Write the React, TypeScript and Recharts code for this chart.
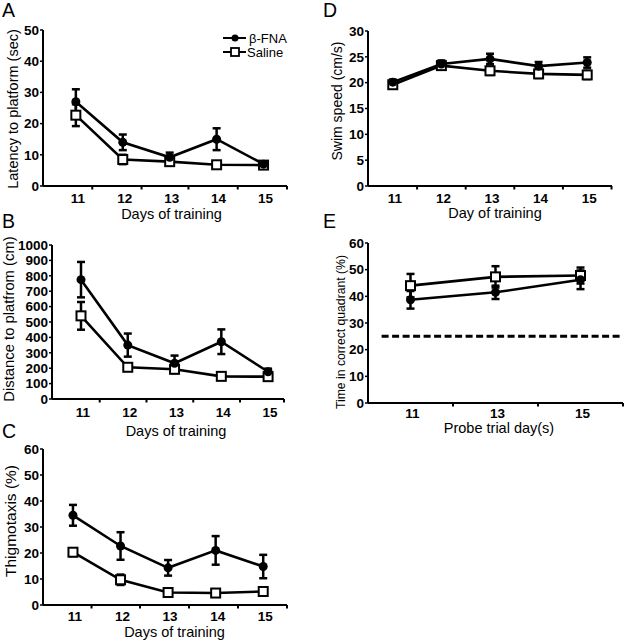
import React from "react";
import { LineChart, Line, XAxis, YAxis, ErrorBar, ReferenceLine, Legend } from "recharts";

const FONT = '"Liberation Sans", Arial, Helvetica, sans-serif';

const trainingDays = [11, 12, 13, 14, 15];
const probeDays = [11, 13, 15];

// A: latency to platform (sec)
const latencyFna = [27, 14, 9.2, 15, 7];
const latencyFnaSem = [4, 2.5, 1.5, 3.5, 0.8];
const latencySaline = [22.7, 8.5, 7.8, 6.8, 6.7];
const latencySalineSem = [3.5, 1.5, 1, 0.5, 0.5];

// B: distance to platform (cm)
const distanceFna = [775, 350, 232, 372, 177];
const distanceFnaSem = [115, 75, 50, 80, 20];
const distanceSaline = [540, 206, 193, 147, 145];
const distanceSalineSem = [90, 20, 25, 15, 15];

// C: thigmotaxis (%)
const thigmoFna = [34.5, 22.7, 14.3, 21, 14.8];
const thigmoFnaSem = [4, 5.3, 3, 5.5, 4.5];
const thigmoSaline = [20.3, 9.7, 4.8, 4.6, 5.2];
const thigmoSalineSem = [1.5, 2, 0.8, 0.5, 0.8];

// D: swim speed (cm/s)
const swimFna = [20.1, 23.6, 24.6, 23.2, 23.9];
const swimFnaSem = [0.5, 0.7, 1, 0.8, 1];
const swimSaline = [19.6, 23.3, 22.3, 21.7, 21.5];
const swimSalineSem = [0.5, 0.8, 0.8, 0.8, 0.8];

// E: time in correct quadrant (%)
const quadrantFna = [38.7, 41.5, 46.2];
const quadrantFnaSem = [3.3, 2.5, 3.5];
const quadrantSaline = [44, 47.3, 47.8];
const quadrantSalineSem = [4.4, 4, 3];
const chanceLevel = 25;

const seriesNames = ["β-FNA", "Saline"];

type Row = { day: number; fna: number; fnaErr: number; sal: number; salErr: number };

function rows(days: number[], fna: number[], fnaErr: number[], sal: number[], salErr: number[]): Row[] {
  return days.map((day, i) => ({ day, fna: fna[i], fnaErr: fnaErr[i], sal: sal[i], salErr: salErr[i] }));
}

const latencyData = rows(trainingDays, latencyFna, latencyFnaSem, latencySaline, latencySalineSem);
const distanceData = rows(trainingDays, distanceFna, distanceFnaSem, distanceSaline, distanceSalineSem);
const thigmoData = rows(trainingDays, thigmoFna, thigmoFnaSem, thigmoSaline, thigmoSalineSem);
const swimData = rows(trainingDays, swimFna, swimFnaSem, swimSaline, swimSalineSem);
const quadrantData = rows(probeDays, quadrantFna, quadrantFnaSem, quadrantSaline, quadrantSalineSem);

// eslint-disable-next-line @typescript-eslint/no-explicit-any
const FilledDot = (props: any) => {
  const { cx, cy, index } = props;
  if (cx == null || cy == null) return <g key={index} />;
  return <circle key={index} cx={cx} cy={cy} r={4.5} fill="#000" />;
};

// eslint-disable-next-line @typescript-eslint/no-explicit-any
const OpenSquare = (props: any) => {
  const { cx, cy, index } = props;
  if (cx == null || cy == null) return <g key={index} />;
  return (
    <rect key={index} x={cx - 4.5} y={cy - 4.5} width={9} height={9} fill="#fff" stroke="#000" strokeWidth={2} />
  );
};

const LegendBox = () => (
  <svg width={80} height={30}>
    <line x1={3} x2={26} y1={7} y2={7} stroke="#000" strokeWidth={2} />
    <circle cx={15} cy={7} r={3.5} fill="#000" />
    <text x={29} y={7} dominantBaseline="central" fontFamily={FONT} fontSize={13} fill="#000">
      {seriesNames[0]}
    </text>
    <line x1={3} x2={26} y1={21} y2={21} stroke="#000" strokeWidth={2} />
    <rect x={11} y={17} width={8} height={8} fill="#fff" stroke="#000" strokeWidth={1.8} />
    <text x={27} y={21} dominantBaseline="central" fontFamily={FONT} fontSize={13} fill="#000">
      {seriesNames[1]}
    </text>
  </svg>
);

type PanelProps = {
  data: Row[];
  plotLeft: number;
  plotTop: number;
  plotW: number;
  plotH: number;
  yWidth: number;
  xDomain: [number, number];
  xLabels: number[];
  xMinor: number[];
  labelDy: number;
  yMax: number;
  yTicks: number[];
  children?: React.ReactNode;
};

function Panel(p: PanelProps) {
  const mTop = 8;
  const mRight = 2;
  const xH = 30;
  const tickVals = [...p.xLabels, ...p.xMinor].sort((a, b) => a - b);

  // eslint-disable-next-line @typescript-eslint/no-explicit-any
  const renderXTick = (props: any) => {
    const { x, y, payload } = props;
    if (p.xLabels.includes(payload.value)) {
      return (
        <text x={x + 2} y={y + p.labelDy} textAnchor="middle" fontFamily={FONT} fontSize={13.5} fontWeight="bold" fill="#000">
          {payload.value}
        </text>
      );
    }
    return <line x1={x} x2={x} y1={y} y2={y + 3.5} stroke="#000" strokeWidth={2} />;
  };

  return (
    <div style={{ position: "absolute", left: p.plotLeft - p.yWidth, top: p.plotTop - mTop }}>
      <LineChart
        width={p.yWidth + p.plotW + mRight}
        height={mTop + p.plotH + xH}
        data={p.data}
        margin={{ top: mTop, right: mRight, left: 0, bottom: 0 }}
      >
        <XAxis
          type="number"
          dataKey="day"
          domain={p.xDomain}
          ticks={tickVals}
          interval={0}
          tickLine={false}
          tickSize={0}
          tickMargin={0}
          tick={renderXTick}
          axisLine={{ stroke: "#000", strokeWidth: 2 }}
          height={xH}
          allowDataOverflow
        />
        <YAxis
          type="number"
          domain={[0, p.yMax]}
          ticks={p.yTicks}
          interval={0}
          width={p.yWidth}
          tickSize={3}
          tickMargin={1}
          tick={{ fill: "#000", fontSize: 13.5, fontWeight: "bold", fontFamily: FONT }}
          tickLine={{ stroke: "#000", strokeWidth: 1.5 }}
          axisLine={{ stroke: "#000", strokeWidth: 2 }}
          allowDataOverflow
        />
        {p.children}
        <Line
          type="linear"
          dataKey="sal"
          stroke="#000"
          strokeWidth={2.6}
          dot={OpenSquare}
          activeDot={false}
          isAnimationActive={false}
        >
          <ErrorBar dataKey="salErr" direction="y" width={4} strokeWidth={2.5} stroke="#000" isAnimationActive={false} />
        </Line>
        <Line
          type="linear"
          dataKey="fna"
          stroke="#000"
          strokeWidth={2.6}
          dot={FilledDot}
          activeDot={false}
          isAnimationActive={false}
        >
          <ErrorBar dataKey="fnaErr" direction="y" width={4} strokeWidth={2.5} stroke="#000" isAnimationActive={false} />
        </Line>
      </LineChart>
    </div>
  );
}

const titleStyle = { fontFamily: FONT, fill: "#000" };

function YTitle({ x, y, size, text }: { x: number; y: number; size: number; text: string }) {
  return (
    <text
      transform={`translate(${x},${y}) rotate(-90)`}
      textAnchor="middle"
      dominantBaseline="central"
      fontSize={size}
      {...titleStyle}
    >
      {text}
    </text>
  );
}

function XTitle({ x, y, size, text }: { x: number; y: number; size: number; text: string }) {
  return (
    <text x={x} y={y} textAnchor="middle" dominantBaseline="central" fontSize={size} {...titleStyle}>
      {text}
    </text>
  );
}

export default function App() {
  return (
    <div style={{ position: "absolute", left: 0, top: 0, width: 625, height: 640, background: "#fff", overflow: "hidden" }}>
      <Panel
        data={latencyData}
        plotLeft={43}
        plotTop={30}
        plotW={244}
        plotH={156}
        yWidth={43}
        xDomain={[10.3, 15.5]}
        xLabels={trainingDays}
        xMinor={[11.35, 12.4, 13.4, 14.45, 15.5]}
        labelDy={17}
        yMax={50}
        yTicks={[0, 10, 20, 30, 40, 50]}
      >
        <Legend
          layout="vertical"
          align="center"
          verticalAlign="middle"
          content={LegendBox}
          wrapperStyle={{ position: "absolute", left: 220, top: 9, width: 80 }}
        />
      </Panel>

      <Panel
        data={distanceData}
        plotLeft={52}
        plotTop={245}
        plotW={232}
        plotH={154}
        yWidth={50}
        xDomain={[10.38, 15.34]}
        xLabels={trainingDays}
        xMinor={[11.4, 12.4, 13.4, 14.4, 15.34]}
        labelDy={18}
        yMax={1000}
        yTicks={[0, 100, 200, 300, 400, 500, 600, 700, 800, 900, 1000]}
      />

      <Panel
        data={thigmoData}
        plotLeft={43}
        plotTop={449}
        plotW={244}
        plotH={156}
        yWidth={43}
        xDomain={[10.37, 15.5]}
        xLabels={trainingDays}
        xMinor={[11.39, 12.41, 13.44, 14.47, 15.5]}
        labelDy={16}
        yMax={60}
        yTicks={[0, 10, 20, 30, 40, 50, 60]}
      />

      <Panel
        data={swimData}
        plotLeft={368}
        plotTop={31}
        plotW={244}
        plotH={155}
        yWidth={40}
        xDomain={[10.49, 15.51]}
        xLabels={trainingDays}
        xMinor={[11.5, 12.5, 13.5, 14.5, 15.5]}
        labelDy={17}
        yMax={30}
        yTicks={[0, 5, 10, 15, 20, 25, 30]}
      />

      <Panel
        data={quadrantData}
        plotLeft={368}
        plotTop={243}
        plotW={255}
        plotH={160}
        yWidth={40}
        xDomain={[10, 16]}
        xLabels={probeDays}
        xMinor={[12, 14, 16]}
        labelDy={15}
        yMax={60}
        yTicks={[0, 10, 20, 30, 40, 50, 60]}
      >
        <ReferenceLine
          segment={[
            { x: 10.32, y: chanceLevel },
            { x: 16, y: chanceLevel },
          ]}
          stroke="#000"
          strokeWidth={3}
          strokeDasharray="7 3.5"
          ifOverflow="visible"
        />
      </Panel>

      <svg width={625} height={640} style={{ position: "absolute", left: 0, top: 0, pointerEvents: "none" }}>
        <g fontFamily={FONT} fontSize={19.5} fill="#000">
          <text x={2} y={17}>A</text>
          <text x={2} y={228}>B</text>
          <text x={2} y={438}>C</text>
          <text x={323} y={17}>D</text>
          <text x={323} y={228}>E</text>
        </g>
        <YTitle x={12.5} y={109} size={14.5} text="Latency to platform (sec)" />
        <YTitle x={9} y={319} size={14.8} text="Distance to platfrom (cm)" />
        <YTitle x={10} y={521} size={15.5} text="Thigmotaxis (%)" />
        <YTitle x={337} y={101} size={14} text="Swim speed (cm/s)" />
        <YTitle x={341} y={332} size={12.2} text="Time in correct quadrant (%)" />
        <XTitle x={171.5} y={214} size={14.5} text="Days of training" />
        <XTitle x={176} y={431} size={14.5} text="Days of training" />
        <XTitle x={174.5} y={632} size={14.5} text="Days of training" />
        <XTitle x={495} y={213} size={14.5} text="Day of training" />
        <XTitle x={499} y={428} size={14.5} text="Probe trial day(s)" />
      </svg>
    </div>
  );
}
